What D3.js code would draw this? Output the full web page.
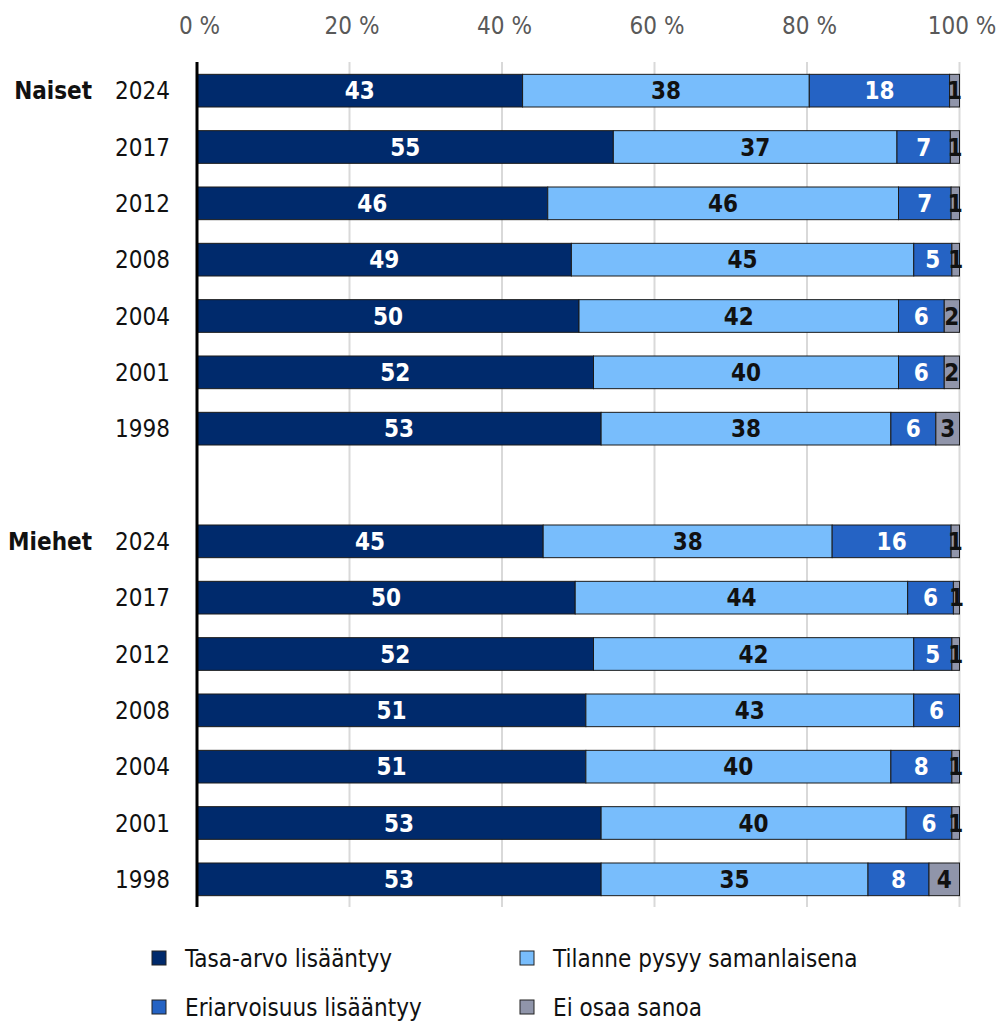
<!DOCTYPE html>
<html>
<head>
<meta charset="utf-8">
<script src="https://cdn.jsdelivr.net/npm/d3@7"></script>
<style>
  body { margin: 0; background: #fff; }
  svg text { font-family: "Liberation Sans Narrow", "DejaVu Sans Condensed", "Roboto Condensed", "Open Sans", sans-serif; font-stretch: condensed; }
</style>
</head>
<body>
<div id="chart"></div>
<script>
// Data (percentages)
const groups = ["Naiset", "Miehet"];
const years = ["2024", "2017", "2012", "2008", "2004", "2001", "1998"];
const seriesNames = ["Tasa-arvo lisääntyy", "Tilanne pysyy samanlaisena", "Eriarvoisuus lisääntyy", "Ei osaa sanoa"];
const xTicks = [0, 20, 40, 60, 80, 100];

const naisetTasaArvo = [42.7, 54.6, 46.0, 49.1, 50.1, 52.0, 53.0];
const naisetTilanne = [37.6, 37.2, 46.0, 44.9, 41.9, 40.0, 38.0];
const naisetEriarvo = [18.4, 7.0, 6.9, 5.0, 6.0, 6.0, 5.9];
const naisetEos = [1.3, 1.2, 1.1, 1.0, 2.0, 2.0, 3.1];

const miehetTasaArvo = [45.4, 49.6, 52.0, 51.0, 51.0, 53.0, 53.0];
const miehetTilanne = [37.9, 43.6, 42.0, 43.0, 40.0, 40.0, 35.0];
const miehetEriarvo = [15.6, 6.0, 5.0, 6.0, 8.0, 6.0, 8.0];
const miehetEos = [1.1, 0.8, 1.0, 0, 1.0, 1.0, 4.0];

const colors = ["#002a6c", "#78bdfc", "#2563c4", "#9095aa"];
const labelColors = ["#fff", "#111", "#fff", "#111"];

const W = 1003, H = 1023;
const svg = d3.select("#chart").append("svg")
    .attr("width", W)
    .attr("height", H);

// Build rows (with an empty slot between the groups)
const groupData = {
    Naiset: [naisetTasaArvo, naisetTilanne, naisetEriarvo, naisetEos],
    Miehet: [miehetTasaArvo, miehetTilanne, miehetEriarvo, miehetEos]
};
const rows = [];
groups.forEach((g, gi) => {
    years.forEach((yr, i) => {
        rows.push({ key: g + "-" + yr, group: g, year: yr, first: i === 0,
            values: groupData[g].map(s => s[i]) });
    });
    if (gi < groups.length - 1) rows.push({ key: "gap" + gi, spacer: true });
});

// Scales
const x = d3.scaleLinear().domain([0, 100]).range([197, 959.5]);
const y = d3.scaleBand()
    .domain(rows.map(r => r.key))
    .range([62.5, 907.5])
    .paddingInner(0.42)
    .paddingOuter(0.21);

// Gridlines
svg.append("g")
    .selectAll("line")
    .data(xTicks.filter(d => d > 0))
    .join("line")
    .attr("x1", d => x(d))
    .attr("x2", d => x(d))
    .attr("y1", 62)
    .attr("y2", 907)
    .attr("stroke", "#d9d9d9")
    .attr("stroke-width", 2);

// Top axis labels
const axis = svg.append("g")
    .attr("transform", "translate(2, 34)")
    .call(d3.axisTop(x).tickValues(xTicks).tickFormat(d => d + " %").tickSize(0).tickPadding(0));
axis.select(".domain").remove();
axis.selectAll("text")
    .attr("fill", "#595959")
    .style("font-size", "24px");

// Bars
const rowG = svg.append("g")
    .selectAll("g")
    .data(rows.filter(r => !r.spacer))
    .join("g")
    .attr("transform", d => `translate(0,${y(d.key)})`);

rowG.each(function (r) {
    const g = d3.select(this);
    let acc = 0;
    const segs = r.values.map((v, i) => {
        const s = { i, v, x0: acc, x1: acc + v };
        acc += v;
        return s;
    }).filter(s => s.v > 0);

    g.selectAll("rect")
        .data(segs)
        .join("rect")
        .attr("x", s => x(s.x0))
        .attr("y", 0)
        .attr("width", s => x(s.x1) - x(s.x0))
        .attr("height", y.bandwidth())
        .attr("fill", s => colors[s.i])
        .attr("stroke", "#1a1a1a")
        .attr("stroke-width", 1);

    g.selectAll("text.val")
        .data(segs)
        .join("text")
        .attr("class", "val")
        .attr("x", s => (x(s.x0) + x(s.x1)) / 2)
        .attr("y", y.bandwidth() / 2)
        .attr("dy", "0.36em")
        .attr("text-anchor", "middle")
        .attr("fill", s => labelColors[s.i])
        .style("font-size", "24px")
        .style("font-weight", "bold")
        .text(s => d3.format(".0f")(s.v));
});

// Row labels
rowG.append("text")
    .attr("x", 170)
    .attr("y", y.bandwidth() / 2)
    .attr("dy", "0.36em")
    .attr("text-anchor", "end")
    .attr("fill", "#111")
    .style("font-size", "24px")
    .text(d => d.year);

rowG.filter(d => d.first).append("text")
    .attr("x", 92)
    .attr("y", y.bandwidth() / 2)
    .attr("dy", "0.36em")
    .attr("text-anchor", "end")
    .attr("fill", "#111")
    .style("font-size", "24px")
    .style("font-weight", "bold")
    .text(d => d.group);

// Vertical axis line
svg.append("line")
    .attr("x1", x(0))
    .attr("x2", x(0))
    .attr("y1", 62)
    .attr("y2", 907)
    .attr("stroke", "#000")
    .attr("stroke-width", 3);

// Legend
const legendPos = [[152, 958], [520, 958], [152, 1007], [520, 1007]];
const legend = svg.append("g")
    .selectAll("g")
    .data(seriesNames)
    .join("g")
    .attr("transform", (d, i) => `translate(${legendPos[i][0]},${legendPos[i][1]})`);

legend.append("rect")
    .attr("x", 0)
    .attr("y", -7)
    .attr("width", 14)
    .attr("height", 14)
    .attr("fill", (d, i) => colors[i])
    .attr("stroke", "#222")
    .attr("stroke-width", 1);

legend.append("text")
    .attr("x", 33)
    .attr("y", 0)
    .attr("dy", "0.36em")
    .attr("fill", "#111")
    .style("font-size", "24px")
    .text(d => d);
</script>
</body>
</html>
